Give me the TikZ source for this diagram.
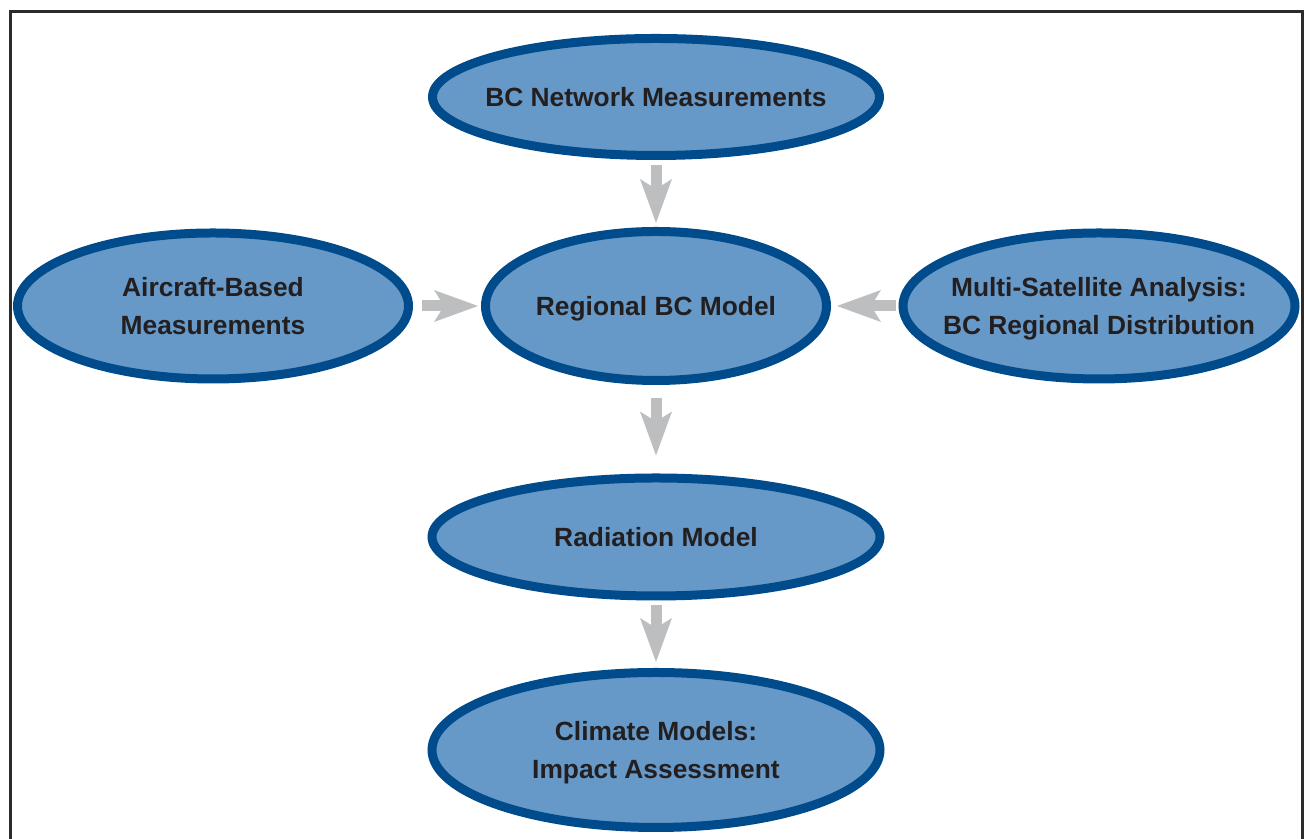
\documentclass[tikz,border=0pt]{standalone}
\usepackage{fontspec}
\setmainfont{Liberation Sans}
\usetikzlibrary{shapes.geometric, arrows.meta}
\definecolor{ovalfill}{HTML}{6699C7}
\definecolor{ovalline}{HTML}{004B8C}
\definecolor{arrowgray}{HTML}{BCBEC0}
\definecolor{textdark}{HTML}{231F20}
\definecolor{framegray}{HTML}{2B2B2B}

\begin{document}
\begin{tikzpicture}[scale = 1,
  oval/.style = {ellipse, draw = ovalline, fill = ovalfill, line width = 0.18cm,
    inner xsep = -1cm, inner ysep = 0pt, text depth = 0pt, text = textdark, align = center,
    font = \fontsize{15}{21.5}\selectfont\bfseries},
  flow/.style = {line width = 0.22cm, arrowgray,
    -{Stealth[length = 0.88cm, width = 0.64cm, inset = 0.2cm, line width = 0pt]}}]

\useasboundingbox (0,0) rectangle (26.08,16.78);
\draw[line width = 0.06cm, framegray] (0.21,-0.5) -- (0.21,16.55) -- (26.05,16.55) -- (26.05,-0.5);

\node[oval, minimum width = 8.94cm, minimum height = 2.34cm] (net) at (13.12,14.84) {BC Network Measurements};
\node[oval, minimum width = 6.82cm, minimum height = 2.98cm] (reg) at (13.12,10.66) {Regional BC Model};
\node[oval, minimum width = 7.82cm, minimum height = 2.92cm] (air) at (4.26,10.66) {Aircraft-Based\\Measurements};
\node[oval, minimum width = 7.84cm, minimum height = 2.92cm] (sat) at (21.98,10.66) {Multi-Satellite Analysis:\\BC Regional Distribution};
\node[oval, minimum width = 8.96cm, minimum height = 2.36cm] (rad) at (13.12,6.04) {Radiation Model};
\node[oval, minimum width = 8.96cm, minimum height = 3.10cm] (clim) at (13.12,1.78) {Climate Models:\\Impact Assessment};

\draw[flow, shorten <= 0.10cm, shorten >= 0.08cm] (net) -- (reg);
\draw[flow, shorten <= 0.18cm, shorten >= 0.06cm] (air) -- (reg);
\draw[flow, shorten <= 0.06cm, shorten >= 0.12cm] (sat) -- (reg);
\draw[flow, shorten <= 0.26cm, shorten >= 0.36cm] (reg) -- (rad);
\draw[flow, shorten <= 0.10cm, shorten >= 0.12cm] (rad) -- (clim);

\end{tikzpicture}
\end{document}
